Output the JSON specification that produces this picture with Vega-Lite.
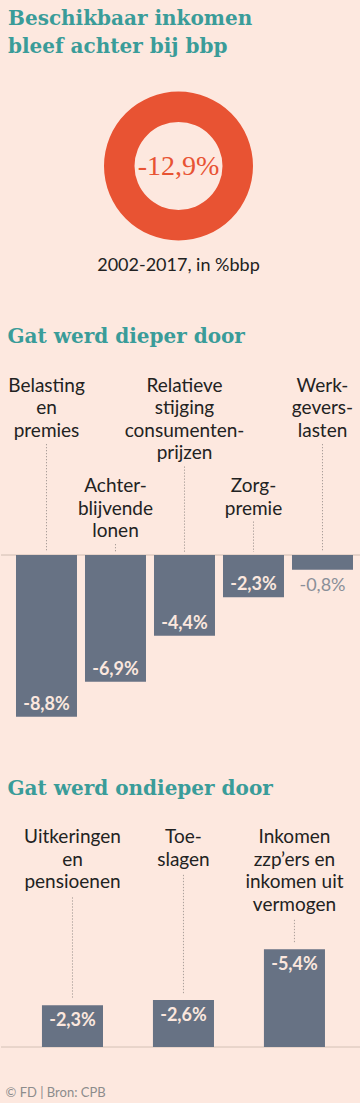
{
  "$schema": "https://vega.github.io/schema/vega-lite/v6.json",
  "background": "#fde8df",
  "padding": {"left": 0, "top": 9, "right": 0, "bottom": 4},
  "spacing": 52,
  "config": {
    "view": {"stroke": null},
    "font": "Lato",
    "axis": {"disable": true},
    "title": {"font": "DejaVu Serif", "fontWeight": "bold", "fontSize": 20, "color": "#3a9c99", "anchor": "start", "dx": 7, "lineHeight": 28}
  },
  "title": {"text": "© FD | Bron: CPB", "orient": "bottom", "anchor": "start", "font": "Lato", "fontSize": 13, "fontWeight": "normal", "color": "#8c8c8c", "dx": 5, "offset": 39},
  "vconcat": [
    {
      "width": 355,
      "height": 218,
      "title": {"text": ["Beschikbaar inkomen", "bleef achter bij bbp"], "offset": 0},
      "data": {"values": [{"periode": "2002-2017", "waarde": -12.9}]},
      "transform": [{"calculate": "replace(toString(datum.waarde), '.', ',') + '%'", "as": "tekst"}],
      "layer": [
        {
          "mark": {"type": "arc", "innerRadius": 44, "outerRadius": 74.5, "color": "#e85333"},
          "encoding": {"theta": {"field": "waarde", "type": "quantitative"}}
        },
        {
          "mark": {"type": "text", "font": "Liberation Serif", "fontSize": 28, "color": "#e85333", "baseline": "middle", "align": "center", "dy": 1},
          "encoding": {"text": {"field": "tekst"}}
        },
        {
          "mark": {"type": "text", "font": "Lato", "fontSize": 18, "color": "#222222", "baseline": "alphabetic", "align": "center", "dy": 105},
          "encoding": {"text": {"value": "2002-2017, in %bbp"}}
        }
      ]
    },
    {
      "width": 360,
      "height": 362,
      "title": {"text": "Gat werd dieper door", "offset": 18},
      "data": {"values": [
        {"categorie": "Belasting|en|premies", "waarde": -8.8},
        {"categorie": "Achter-|blijvende|lonen", "waarde": -6.9},
        {"categorie": "Relatieve|stijging|consumenten-|prijzen", "waarde": -4.4},
        {"categorie": "Zorg-|premie", "waarde": -2.3},
        {"categorie": "Werk-|gevers-|lasten", "waarde": -0.8}
      ]},
      "transform": [
        {"calculate": "split(datum.categorie, '|')", "as": "regels"},
        {"calculate": "replace(toString(datum.waarde), '.', ',') + '%'", "as": "tekst"},
        {"calculate": "indexof(['Achter-|blijvende|lonen', 'Zorg-|premie'], datum.categorie) >= 0 ? 4.246 : 9.69", "as": "labelY"},
        {"calculate": "datum.labelY - (22 + (length(datum.regels) - 1) * 22.5) / 18.37", "as": "leaderY"}
      ],
      "layer": [
        {
          "mark": {"type": "rule", "color": "#e6d2c8", "strokeWidth": 1},
          "encoding": {"y": {"datum": 0, "type": "quantitative"}}
        },
        {
          "mark": {"type": "bar", "color": "#677284"},
          "encoding": {
            "x": {"field": "categorie", "type": "nominal", "sort": null,
                  "scale": {"paddingInner": 0.116, "paddingOuter": 0.1667, "align": 0.652}},
            "y": {"field": "waarde", "type": "quantitative",
                  "scale": {"domain": [-9.363, 10.343], "nice": false, "zero": false}}
          }
        },
        {
          "mark": {"type": "rule", "color": "#aa9e99", "strokeWidth": 1, "strokeDash": [1.3, 1.7], "y2Offset": -3},
          "encoding": {
            "x": {"field": "categorie", "type": "nominal", "sort": null},
            "y": {"field": "leaderY", "type": "quantitative"},
            "y2": {"datum": 0}
          }
        },
        {
          "mark": {"type": "text", "fontSize": 19, "color": "#222222", "baseline": "top", "align": "center", "lineHeight": 22.5},
          "encoding": {
            "x": {"field": "categorie", "type": "nominal", "sort": null},
            "y": {"field": "labelY", "type": "quantitative"},
            "text": {"field": "regels"}
          }
        },
        {
          "transform": [{"filter": "datum.waarde <= -1"}],
          "mark": {"type": "text", "fontSize": 18, "fontWeight": "bold", "color": "#fbe7de", "baseline": "bottom", "align": "center", "dy": -3},
          "encoding": {
            "x": {"field": "categorie", "type": "nominal", "sort": null},
            "y": {"field": "waarde", "type": "quantitative"},
            "text": {"field": "tekst"}
          }
        },
        {
          "transform": [{"filter": "datum.waarde > -1"}],
          "mark": {"type": "text", "fontSize": 18, "fontWeight": "normal", "color": "#8a8f98", "baseline": "top", "align": "center", "dy": 7},
          "encoding": {
            "x": {"field": "categorie", "type": "nominal", "sort": null},
            "y": {"field": "waarde", "type": "quantitative"},
            "text": {"field": "tekst"}
          }
        }
      ]
    },
    {
      "width": 360,
      "height": 232,
      "title": {"text": "Gat werd ondieper door", "offset": 16},
      "data": {"values": [
        {"categorie": "Uitkeringen|en|pensioenen", "waarde": -2.3},
        {"categorie": "Toe-|slagen", "waarde": -2.6},
        {"categorie": "Inkomen|zzp’ers en|inkomen uit|vermogen", "waarde": -5.4}
      ]},
      "transform": [
        {"calculate": "split(datum.categorie, '|')", "as": "regels"},
        {"calculate": "replace(toString(datum.waarde), '.', ',') + '%'", "as": "tekst"},
        {"calculate": "-12.08", "as": "labelY"},
        {"calculate": "datum.labelY + (24 + (length(datum.regels) - 1) * 22.5) / 18.1", "as": "leaderY"}
      ],
      "layer": [
        {
          "mark": {"type": "rule", "color": "#e6d2c8", "strokeWidth": 1},
          "encoding": {"y": {"datum": 0, "type": "quantitative"}}
        },
        {
          "mark": {"type": "bar", "color": "#677284"},
          "encoding": {
            "x": {"field": "categorie", "type": "nominal", "sort": null,
                  "scale": {"paddingInner": 0.45, "paddingOuter": 0.3468, "align": 0.532}},
            "y": {"field": "waarde", "type": "quantitative",
                  "scale": {"domain": [-12.818, 0], "reverse": true, "nice": false, "zero": false}}
          }
        },
        {
          "mark": {"type": "rule", "color": "#aa9e99", "strokeWidth": 1, "strokeDash": [1.3, 1.7], "y2Offset": -6},
          "encoding": {
            "x": {"field": "categorie", "type": "nominal", "sort": null},
            "y": {"field": "leaderY", "type": "quantitative"},
            "y2": {"field": "waarde"}
          }
        },
        {
          "mark": {"type": "text", "fontSize": 19, "color": "#222222", "baseline": "top", "align": "center", "lineHeight": 22.5},
          "encoding": {
            "x": {"field": "categorie", "type": "nominal", "sort": null},
            "y": {"field": "labelY", "type": "quantitative"},
            "text": {"field": "regels"}
          }
        },
        {
          "mark": {"type": "text", "fontSize": 18, "fontWeight": "bold", "color": "#fbe7de", "baseline": "top", "align": "center", "dy": 7},
          "encoding": {
            "x": {"field": "categorie", "type": "nominal", "sort": null},
            "y": {"field": "waarde", "type": "quantitative"},
            "text": {"field": "tekst"}
          }
        }
      ]
    }
  ]
}
